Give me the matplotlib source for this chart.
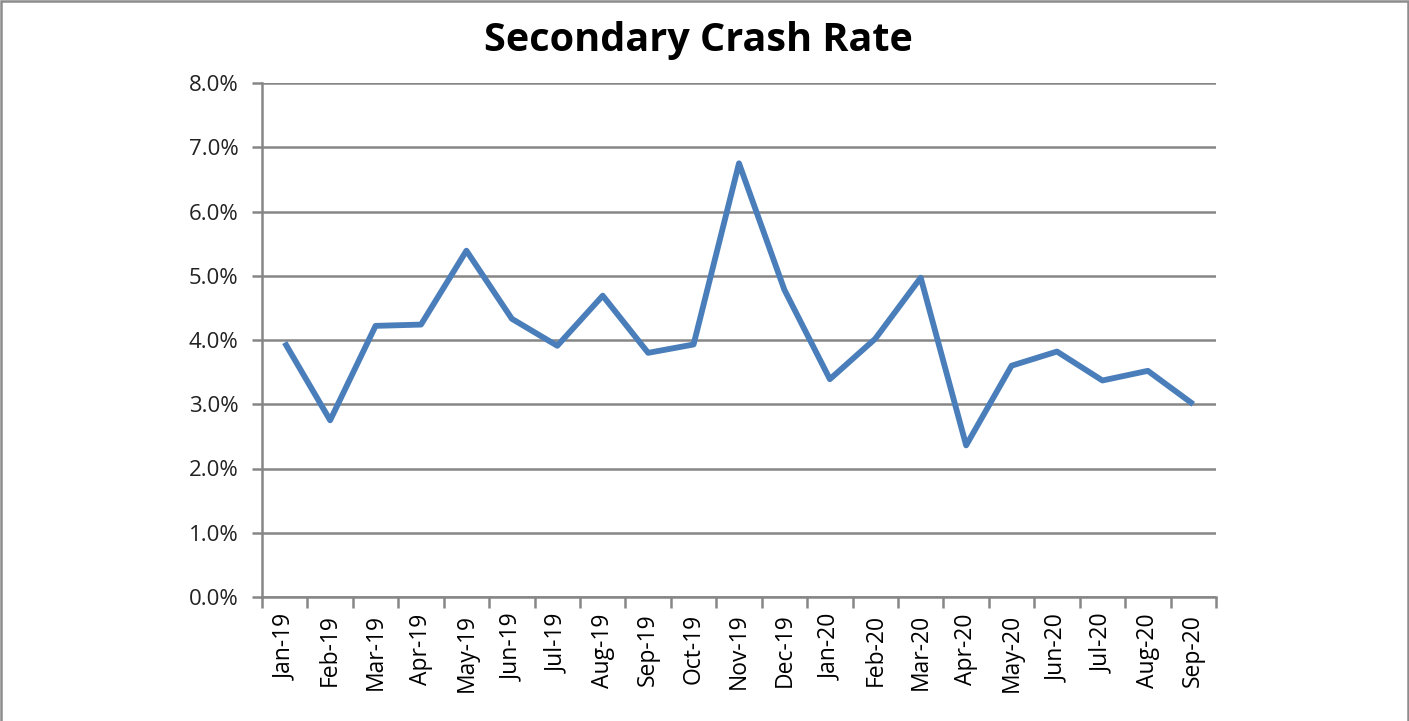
import matplotlib
matplotlib.use("Agg")
import matplotlib.pyplot as plt
from matplotlib.patches import Rectangle
from matplotlib.ticker import FuncFormatter, FixedLocator

months = ["Jan-19", "Feb-19", "Mar-19", "Apr-19", "May-19", "Jun-19", "Jul-19",
          "Aug-19", "Sep-19", "Oct-19", "Nov-19", "Dec-19", "Jan-20", "Feb-20",
          "Mar-20", "Apr-20", "May-20", "Jun-20", "Jul-20", "Aug-20", "Sep-20"]
rates = [3.96, 2.75, 4.22, 4.24, 5.39, 4.33, 3.91, 4.69, 3.80, 3.93, 6.75,
         4.78, 3.39, 4.02, 4.97, 2.36, 3.60, 3.82, 3.37, 3.52, 3.00]
y_ticks = [0, 1, 2, 3, 4, 5, 6, 7, 8]
title = "Secondary Crash Rate"

W, H = 1409, 721
fig = plt.figure(figsize=(W / 100, H / 100), dpi=100)
fig.patch.set_facecolor("white")
fig.patches.append(Rectangle((1 / W, -0.05), 1 - 2 / W, 1.05 - 1.5 / H, transform=fig.transFigure,
                             fill=False, edgecolor="#8c8c8c", linewidth=1.8))

ax = fig.add_axes([262 / W, 1 - 597 / H, (1216 - 262) / W, (597 - 83) / H])
x = list(range(len(months)))
ax.plot(x, rates, color="#4a7ebb", linewidth=4.2, solid_joinstyle="round",
        solid_capstyle="butt", zorder=3)

ax.set_xlim(-0.5, len(months) - 0.5)
ax.set_ylim(0, 8)
ax.set_yticks(y_ticks)
ax.yaxis.set_major_formatter(FuncFormatter(lambda v, p: f"{v:.1f}%"))
ax.grid(axis="y", color="#868686", linewidth=1.8, zorder=1)

ax.set_xticks(x)
ax.set_xticklabels(months, rotation=90, fontsize=16.5, family="Open Sans")
ax.xaxis.set_minor_locator(FixedLocator([i - 0.5 for i in range(len(months) + 1)]))
ax.tick_params(axis="x", which="major", length=0, pad=12)
ax.tick_params(axis="x", which="minor", length=8, width=1.8, color="#868686", direction="out")
ax.tick_params(axis="y", length=7, width=1.8, color="#868686", labelsize=16, pad=10)
for lab in ax.get_yticklabels():
    lab.set_family("Open Sans")
    lab.set_color("#222222")

for s in ["top", "right"]:
    ax.spines[s].set_visible(False)
for s in ["left", "bottom"]:
    ax.spines[s].set_color("#868686")
    ax.spines[s].set_linewidth(1.8)

fig.text(698 / W, 1 - 40 / H, title, ha="center", va="center", fontsize=28.5,
         fontweight="bold", family="Open Sans")

fig.savefig("out.png", dpi=100)
